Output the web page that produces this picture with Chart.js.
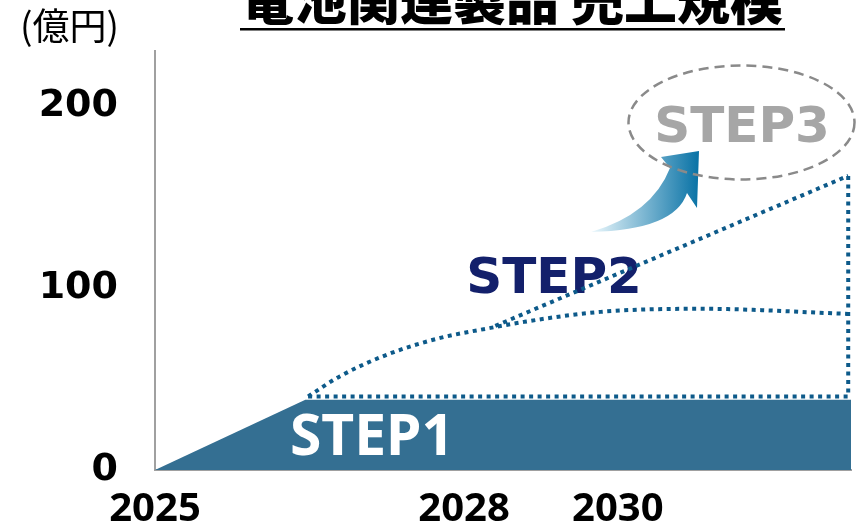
<!DOCTYPE html>
<html>
<head>
<meta charset="utf-8">
<script src="https://cdn.jsdelivr.net/npm/chart.js@4.4.0/dist/chart.umd.min.js"></script>
<style>
  html, body { margin: 0; padding: 0; background: #fff; }
  #wrap { width: 860px; height: 522px; position: relative; }
</style>
</head>
<body>
<div id="wrap"><canvas id="sales"></canvas></div>
<script>
// x runs along the time axis (0 = 2025, 100 = right edge of the chart)
const xTickPos = [0, 44.4, 66.5];
const xTickLabels = ['2025', '2028', '2030'];
const yTickValues = [0, 100, 200];

// STEP1 filled block
const step1X = [0, 21.6, 100];
const step1Y = [0, 38.5, 38.5];

// dotted outline over STEP1 and the right edge
const boxX = [22, 99.6, 99.6];
const boxY = [40.4, 40.4, 161.5];

// STEP2 lower curve
const curveX = [22, 26.6, 33.8, 41, 48.2, 53, 64, 78.4, 99.6];
const curveY = [40.4, 51.5, 64, 72.5, 78, 81.3, 86.8, 88.5, 85.7];

// STEP2 upper straight line
const upperX = [48.9, 99.6];
const upperY = [79.1, 161.5];

const dotColor = '#0d5a8a';
const toPoints = (xs, ys) => xs.map((x, i) => ({ x: x, y: ys[i] }));

const dotted = {
    borderColor: dotColor,
    borderWidth: 4,
    borderDash: [4, 4.5],
    pointRadius: 0,
    fill: false,
    order: 1
};

const decorations = {
    id: 'decorations',
    beforeDatasetsDraw(chart) {
        const ctx = chart.ctx;
        ctx.save();
        ctx.font = 'bold 50px "DejaVu Sans"';
        ctx.fillStyle = '#13206b';
        ctx.textAlign = 'center';
        ctx.textBaseline = 'alphabetic';
        ctx.fillText('STEP2', 554, 293);
        ctx.restore();
    },
    afterDraw(chart) {
        const ctx = chart.ctx;
        ctx.save();

        // title with underline
        ctx.fillStyle = '#000';
        ctx.font = '900 53px "Noto Sans CJK JP"';
        ctx.textAlign = 'center';
        ctx.textBaseline = 'alphabetic';
        ctx.fillText('電池関連製品 売上規模', 512, 20);
        ctx.fillRect(240, 28, 545, 2.5);

        // unit
        ctx.font = '37px "Noto Sans CJK JP"';
        ctx.textAlign = 'left';
        ctx.fillText('(億円)', 20, 40);

        // STEP1 label
        ctx.fillStyle = '#ffffff';
        ctx.font = 'bold 57px "Noto Sans"';
        ctx.textAlign = 'center';
        ctx.fillText('STEP1', 372, 455);

        // curved arrow towards STEP3
        const grad = ctx.createLinearGradient(592, 0, 698, 0);
        grad.addColorStop(0, '#eaf7fc');
        grad.addColorStop(1, '#0a73a6');
        ctx.fillStyle = grad;
        ctx.beginPath();
        ctx.moveTo(591, 232);
        ctx.quadraticCurveTo(652, 214, 670, 168);
        ctx.lineTo(661, 157);
        ctx.lineTo(699, 151);
        ctx.lineTo(697, 208);
        ctx.lineTo(687, 193);
        ctx.quadraticCurveTo(675, 230, 591, 232);
        ctx.closePath();
        ctx.fill();

        // dashed ellipse and STEP3
        ctx.strokeStyle = '#8a8a8a';
        ctx.lineWidth = 2.5;
        ctx.setLineDash([10, 6]);
        ctx.beginPath();
        ctx.ellipse(741.5, 122.5, 113, 57, 0, 0, Math.PI * 2);
        ctx.stroke();
        ctx.setLineDash([]);

        ctx.fillStyle = '#a6a6a6';
        ctx.font = 'bold 50px "DejaVu Sans"';
        ctx.fillText('STEP3', 742, 142);
        ctx.restore();
    }
};

const ctxSales = document.getElementById('sales').getContext('2d');
const salesChart = new Chart(ctxSales, {
    type: 'line',
    data: {
        datasets: [
            {
                data: toPoints(step1X, step1Y),
                borderWidth: 0,
                borderColor: 'rgba(0,0,0,0)',
                backgroundColor: '#346f92',
                fill: 'origin',
                pointRadius: 0,
                order: 3
            },
            Object.assign({ data: toPoints(boxX, boxY), tension: 0 }, dotted),
            Object.assign({ data: toPoints(curveX, curveY), cubicInterpolationMode: 'monotone' }, dotted),
            Object.assign({ data: toPoints(upperX, upperY), tension: 0 }, dotted)
        ]
    },
    options: {
        responsive: true,
        maintainAspectRatio: false,
        animation: false,
        layout: { padding: { top: 51, right: 9, left: 0, bottom: 0 } },
        plugins: {
            legend: { display: false },
            tooltip: { enabled: false }
        },
        scales: {
            x: {
                type: 'linear',
                min: 0,
                max: 100,
                grid: { display: false, drawTicks: false },
                border: { display: true, color: '#a0a0a0', width: 2 },
                afterBuildTicks: (scale) => {
                    scale.ticks = xTickPos.map(v => ({ value: v }));
                },
                afterFit: (scale) => {
                    scale.height = 52;
                    scale.paddingLeft = 0;
                    scale.paddingRight = 0;
                },
                ticks: {
                    autoSkip: false,
                    maxRotation: 0,
                    padding: 16,
                    color: '#000',
                    font: { family: 'Noto Sans', size: 40, weight: 'bold' },
                    callback: (value) => xTickLabels[xTickPos.indexOf(value)]
                }
            },
            y: {
                min: 0,
                max: 230,
                grid: { display: false, drawTicks: false },
                border: { display: true, color: '#a0a0a0', width: 2 },
                afterBuildTicks: (scale) => {
                    scale.ticks = yTickValues.map(v => ({ value: v }));
                },
                afterFit: (scale) => {
                    scale.width = 155;
                    scale.paddingTop = 0;
                    scale.paddingBottom = 0;
                },
                ticks: {
                    padding: 37,
                    color: '#000',
                    font: { family: 'DejaVu Sans', size: 38, weight: 'bold' }
                }
            }
        }
    },
    plugins: [decorations]
});
</script>
</body>
</html>
